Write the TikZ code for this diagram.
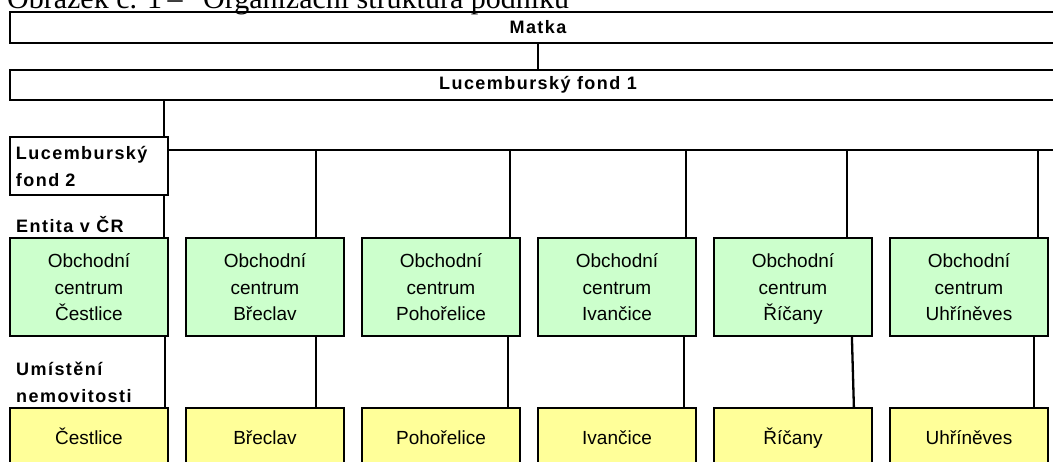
\documentclass[tikz,border=0pt]{standalone}
\usepackage{fontspec}
\setmainfont{Liberation Sans}
\newfontfamily\popisfont[LetterSpace=8]{Liberation Sans}
\newfontfamily\titulekfont{Liberation Serif}
\usetikzlibrary{positioning}

\definecolor{ocgreen}{RGB}{204,255,204}
\definecolor{nemyellow}{RGB}{255,255,153}

\begin{document}
\begin{tikzpicture}[x=1pt, y=-1pt,
    box/.style={draw, line width=1.8pt, inner sep=0pt},
    sirokybox/.style={box, minimum width=1056pt, minimum height=31pt,
        font=\popisfont\bfseries\fontsize{18}{18}\selectfont},
    ocbox/.style={box, fill=ocgreen, minimum width=158pt, minimum height=98pt,
        align=center, text depth=0pt, font=\fontsize{19}{26.5}\selectfont},
    nembox/.style={box, fill=nemyellow, minimum width=158pt, minimum height=58pt,
        text height=13.9pt, text depth=0pt, font=\fontsize{19}{19}\selectfont},
    popis/.style={anchor=base west, inner sep=0pt, align=left,
        font=\popisfont\bfseries\fontsize{18}{27}\selectfont},
    spoj/.style={line width=2.3pt}]
    \useasboundingbox (0,0) rectangle (1053,461);

    % Titulek (oriznuty nahore)
    \node[anchor=base west, inner sep=0pt, font=\titulekfont\fontsize{30}{30}\selectfont] (tit1) at (7,8.5) {Obrázek č. 1};
    \node[anchor=base, inner sep=0pt, font=\titulekfont\fontsize{30}{30}\selectfont] (tit2) at (175,8.5) {–};
    \node[anchor=base west, inner sep=0pt, font=\titulekfont\fontsize{30}{30}\selectfont] (tit3) at (203,8.5) {Organizační struktura podniku};

    % Matka a fondy
    \node[sirokybox] (matka) at (538,27.5) {Matka};
    \node[sirokybox, minimum height=30pt] (lf1) at (538,85) {Lucemburský fond 1};
    \node[box, minimum height=58pt, text width=146pt, inner xsep=6pt, align=left,
        font=\popisfont\bfseries\fontsize{18}{27}\selectfont] (lf2) at (89,166) {Lucemburský\\fond 2};

    \draw[spoj] (matka.south) -- (lf1.north);
    \draw[spoj] ([xshift=-5pt]lf2.north east) -- ([xshift=-5pt]lf2.north east |- lf1.south);

    % Popisky urovni
    \node[popis] (entita) at (16,232) {Entita v ČR};
    \node[popis] (umisteni) at (16,402) {Umístění\\nemovitosti};

    % Obchodni centra a nemovitosti
    \foreach \mesto [count=\i] in {Čestlice, Břeclav, Pohořelice, Ivančice, Říčany, Uhříněves} {
        \node[ocbox] (oc\i) at ({89+176*(\i-1)},287) {Obchodní\\centrum\\\mesto};
        \node[nembox, below=70.5pt of oc\i] (nem\i) {\mesto};
    }

    % Spojnice
    \coordinate (busend) at (1060,150);
    \draw[spoj] (lf2.east |- busend) -- (busend);
    \draw[spoj] ([xshift=-5pt]lf2.south east) -- ([xshift=-5pt]oc1.north east);
    \foreach \i/\dx in {2/-29, 3/-11, 4/-11, 5/-26, 6/-11}
        \draw[spoj] ([xshift=\dx pt]oc\i.north east) -- ([xshift=\dx pt]oc\i.north east |- busend);
    \foreach \i/\da/\db in {1/-4/-4, 2/-29/-29, 3/-13/-13, 4/-13/-13, 5/-21/-19, 6/-15/-15}
        \draw[spoj] ([xshift=\da pt]oc\i.south east) -- ([xshift=\db pt]nem\i.north east);
\end{tikzpicture}
\end{document}
